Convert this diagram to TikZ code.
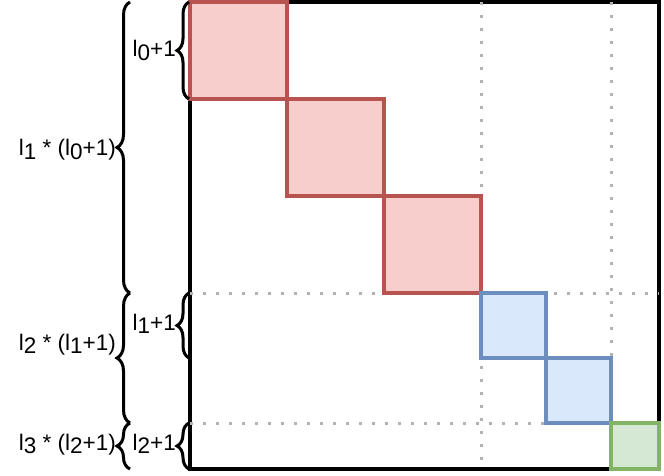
\documentclass[tikz,border=0pt]{standalone}
\usepackage{fontspec}
\setmainfont{Liberation Sans}
\usetikzlibrary{decorations.pathreplacing}

\definecolor{redfill}{HTML}{F8CECC}
\definecolor{redline}{HTML}{B85450}
\definecolor{bluefill}{HTML}{DAE8FC}
\definecolor{blueline}{HTML}{6C8EBF}
\definecolor{greenfill}{HTML}{D5E8D4}
\definecolor{greenline}{HTML}{82B366}
\definecolor{dotgray}{HTML}{B3B3B3}

\newcommand{\lidx}[1]{\raisebox{-3.5pt}{#1}}

\tikzset{
  outer/.style={line width=3.4pt},
  blk/.style={line width=3.4pt},
  redblk/.style={blk, draw=redline, fill=redfill},
  blueblk/.style={blk, draw=blueline, fill=bluefill},
  greenblk/.style={blk, draw=greenline, fill=greenfill},
  gridline/.style={draw=dotgray, line width=3pt, dash pattern=on 3pt off 10pt},
  bigbrc/.style={decorate, decoration={brace, amplitude=13pt}, line width=3pt},
  smallbrc/.style={decorate, decoration={brace, amplitude=12pt}, line width=3pt},
  lbl/.style={anchor=base east, inner sep=0pt, font=\fontsize{22.5}{27}\selectfont}
}

\begin{document}
\begin{tikzpicture}[x=1pt, y=-1pt]
    \useasboundingbox (0,0) rectangle (664,476);
    \draw[outer] (190,2) rectangle (659,469);
    \draw[gridline] (481,2) -- (481,469) (611,2) -- (611,423)
        (190,293) -- (659,293) (190,423) -- (611,423);
    \draw[redblk] (190,2) rectangle (287,99);
    \draw[redblk] (287,99) rectangle (384,196);
    \draw[redblk] (384,196) rectangle (481,293);
    \draw[blueblk] (481,293) rectangle (546,358);
    \draw[blueblk] (546,358) rectangle (611,423);
    \draw[greenblk] (611,423) rectangle (659,469);

    \coordinate (s0) at (189,2);
    \coordinate (s1) at (189,99);
    \coordinate (s2) at (189,293);
    \coordinate (s3) at (189,358);
    \coordinate (s4) at (189,423);
    \coordinate (s5) at (189,469);
    \coordinate (b0) at (130,2);
    \coordinate (b1) at (130,293);
    \coordinate (b2) at (130,423);
    \coordinate (b3) at (130,469);
    \draw[smallbrc] (s1) -- (s0);
    \draw[smallbrc] (s3) -- (s2);
    \draw[smallbrc] (s5) -- (s4);
    \draw[bigbrc] (b1) -- (b0);
    \draw[bigbrc] (b2) -- (b1);
    \draw[bigbrc] (b3) -- (b2);

    \node[lbl] (L0) at (176,57) {l\lidx{0}+1};
    \node[lbl] (L1) at (176,330) {l\lidx{1}+1};
    \node[lbl] (L2) at (176,450) {l\lidx{2}+1};
    \node[lbl] (M1) at (116,156) {l\lidx{1} * (l\lidx{0}+1)};
    \node[lbl] (M2) at (116,350) {l\lidx{2} * (l\lidx{1}+1)};
    \node[lbl] (M3) at (116,450) {l\lidx{3} * (l\lidx{2}+1)};
\end{tikzpicture}
\end{document}
